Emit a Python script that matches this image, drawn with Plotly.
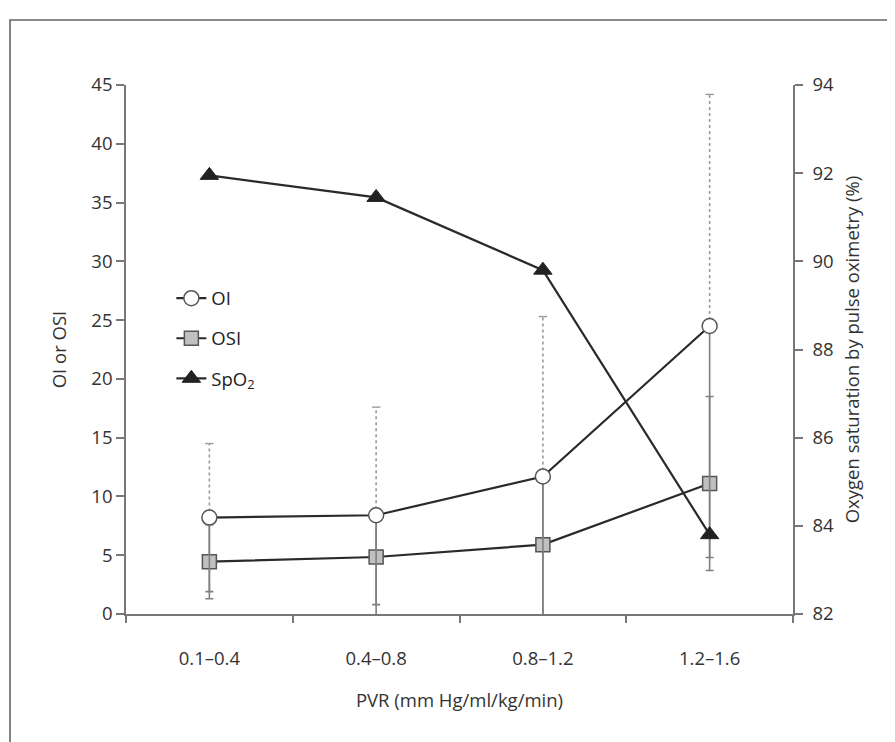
import plotly.graph_objects as go

categories = ["0.1–0.4", "0.4–0.8", "0.8–1.2", "1.2–1.6"]
oi = [8.2, 8.4, 11.7, 24.5]
oi_err = [6.3, 9.2, 13.6, 19.7]
osi = [4.45, 4.85, 5.9, 11.1]
osi_err = [3.15, 4.05, 6.0, 7.4]
spo2 = [91.95, 91.45, 89.8, 83.8]

left_ticks = list(range(0, 46, 5))
right_ticks = list(range(82, 95, 2))

FONT = "Open Sans"
LINE = "#2a2a2a"
ERR = "#808080"
DOT = "#9a9a9a"

# page body has an 8px margin; figure is sized to fit the 895x742 window
W, H = 887, 734
L, R, T, B = 118, 102, 77, 128
PW, PH = W - L - R, H - T - B

fig = go.Figure()

# dotted upper error bars for OI
dx, dy = [], []
for c, v, e in zip(categories, oi, oi_err):
    dx += [c, c, None]
    dy += [v, v + e, None]
fig.add_trace(go.Scatter(x=dx, y=dy, mode="lines", line=dict(color=DOT, width=1.6, dash="dot"),
                         showlegend=False, hoverinfo="skip"))
fig.add_trace(go.Scatter(x=categories, y=[v + e for v, e in zip(oi, oi_err)], mode="markers",
                         marker=dict(symbol="line-ew-open", size=6, color=DOT,
                                     line=dict(color=DOT, width=1.4)),
                         showlegend=False, hoverinfo="skip"))

fig.add_trace(go.Scatter(
    x=categories, y=osi, name="OSI", mode="lines+markers", legendgroup="b", legendrank=2,
    line=dict(color=LINE, width=2.2),
    marker=dict(symbol="square", size=14, color="#c0c0c0", line=dict(color="#555", width=1.5)),
    error_y=dict(type="data", array=osi_err, color=ERR, thickness=1.6, width=4),
))
fig.add_trace(go.Scatter(
    x=categories, y=oi, name="OI", mode="lines+markers", legendgroup="a", legendrank=1,
    line=dict(color=LINE, width=2.2),
    marker=dict(symbol="circle", size=15, color="white", line=dict(color="#555", width=1.5)),
    error_y=dict(type="data", symmetric=False, array=[0] * 4, arrayminus=oi_err,
                 color=ERR, thickness=1.6, width=4),
))
fig.add_trace(go.Scatter(
    x=categories, y=spo2, name="SpO<sub>2</sub>", mode="lines+markers", yaxis="y2",
    legendgroup="c", legendrank=3,
    line=dict(color=LINE, width=2.2),
    marker=dict(symbol="triangle-up", size=16, color="#222", line=dict(color="#222", width=1)),
))

FS = 18.5
axis_font = dict(family=FONT, size=FS, color="#333")

fig.update_layout(
    width=W, height=H,
    paper_bgcolor="white", plot_bgcolor="white",
    margin=dict(l=L, r=R, t=T, b=B),
    font=dict(family=FONT, size=FS, color="#333"),
    showlegend=True,
    legend=dict(x=0.068, y=0.632, xanchor="left", yanchor="top", bgcolor="rgba(0,0,0,0)",
                font=dict(family=FONT, size=FS, color="#222"), tracegroupgap=13, itemwidth=30),
    xaxis=dict(
        type="category", categoryorder="array", categoryarray=categories,
        range=[-0.5, 3.5], showline=True, linecolor="#777", linewidth=1.6,
        ticks="outside", ticklen=7, tickcolor="#777", tickwidth=1.6, tickson="boundaries",
        showgrid=False, zeroline=False, tickfont=axis_font, ticklabelstandoff=27,
        title=dict(text="PVR (mm Hg/ml/kg/min)", font=axis_font, standoff=25),
    ),
    yaxis=dict(
        range=[0, 45], tickvals=left_ticks, showline=True, linecolor="#777", linewidth=1.6,
        ticks="outside", ticklen=8, tickcolor="#777", tickwidth=1.6, showgrid=False, zeroline=False,
        tickfont=axis_font, title=dict(text="OI or OSI", font=axis_font, standoff=20),
    ),
    yaxis2=dict(
        range=[82, 94], tickvals=right_ticks, overlaying="y", side="right", showline=True,
        linecolor="#777", linewidth=1.6, ticks="outside", ticklen=8, tickcolor="#777", tickwidth=1.6,
        showgrid=False, zeroline=False, tickfont=axis_font, ticklabelstandoff=6,
        title=dict(text="Oxygen saturation by pulse oximetry (%)", font=axis_font, standoff=13),
    ),
    shapes=[dict(type="rect", xref="paper", yref="paper",
                 x0=(2 - L) / PW, x1=(W + 20 - L) / PW,
                 y0=-(B + 30) / PH, y1=(PH + T - 12) / PH,
                 line=dict(color="#666", width=1.6), fillcolor="rgba(0,0,0,0)", layer="below")],
)

fig.write_html("out.html")
